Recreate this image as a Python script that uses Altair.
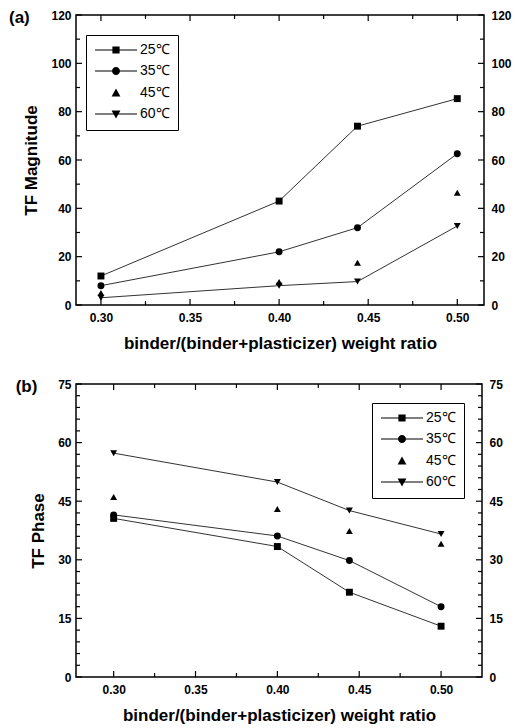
import altair as alt
import pandas as pd

# ---------------- data ----------------
ratio = [0.30, 0.40, 0.444, 0.50]
series = ["25℃", "35℃", "45℃", "60℃"]
line_series = ["25℃", "35℃", "60℃"]

mag_25 = [12.0, 43.0, 74.0, 85.4]
mag_35 = [8.0, 22.0, 32.0, 62.6]
mag_45 = [5.0, 9.5, 17.5, 46.5]
mag_60 = [3.0, 8.0, 9.7, 32.7]

ph_25 = [40.6, 33.4, 21.7, 13.0]
ph_35 = [41.5, 36.1, 29.8, 18.0]
ph_45 = [46.1, 43.0, 37.4, 34.1]
ph_60 = [57.3, 49.9, 42.6, 36.6]

x_major = [0.30, 0.35, 0.40, 0.45, 0.50]
x_minor = [0.325, 0.375, 0.425, 0.475]
mag_major = [0, 20, 40, 60, 80, 100, 120]
mag_minor = [10, 30, 50, 70, 90, 110]
ph_major = [0, 15, 30, 45, 60, 75]
ph_minor = [3, 6, 9, 12, 18, 21, 24, 27, 33, 36, 39, 42, 48, 51, 54, 57, 63, 66, 69, 72]

x_title = "binder/(binder+plasticizer) weight ratio"

FONT = "Liberation Sans"
MAJOR_LEN = 6
MINOR_LEN = 4

# legend symbols: short line with a marker in the middle (normalised units, 1 unit = 4 px)
LINE = "M-5.25,-0.125H5.25V0.125H-5.25Z "
legend_shapes = [
    LINE + "M-0.9,-0.9H0.9V0.9H-0.9Z",
    LINE + "M1,0A1,1 0 1,1 -1,0A1,1 0 1,1 1,0Z",
    "M0,-1.1L1.1,0.9H-1.1Z",
    LINE + "M0,1.1L-1.1,-0.9H1.1Z",
]
point_shapes = ["square", "circle", "triangle-up", "triangle-down"]


def to_frame(values):
    rows = []
    for s, ys in zip(series, values):
        for xv, yv in zip(ratio, ys):
            rows.append({"series": s, "x": xv, "y": yv})
    return pd.DataFrame(rows)


common_axis = dict(
    domain=False, grid=False, ticks=False,
    labelFont=FONT, labelFontWeight="bold", labelFontSize=12, labelColor="black",
    titleFont=FONT, titleFontWeight="bold", titleFontSize=17, titleColor="black",
    labelFlush=False, labelOverlap=False,
)


def panel(df, xdom, ydom, ymaj, ymin, ytitle, label, lx, ly, w, h):
    xs = alt.Scale(domain=xdom, nice=False, zero=False)
    ys = alt.Scale(domain=ydom, nice=False, zero=False)
    base = alt.Chart(df)

    def enc(xaxis, yaxis):
        return dict(
            x=alt.X("x:Q", scale=xs, axis=xaxis),
            y=alt.Y("y:Q", scale=ys, axis=yaxis),
        )

    ax_main = base.mark_point(opacity=0).encode(**enc(
        alt.Axis(orient="bottom", values=x_major, format=".2f",
                 labelPadding=7, title=x_title, titlePadding=12, **common_axis),
        alt.Axis(orient="left", values=ymaj, format="d",
                 labelPadding=5, title=ytitle, titlePadding=10, **common_axis),
    ))
    ax_opp = base.mark_point(opacity=0).encode(**enc(
        alt.Axis(orient="top", values=x_major, labels=False, title=None, **common_axis),
        alt.Axis(orient="right", values=ymaj, format="d",
                 labelPadding=7, title=None, **common_axis),
    ))

    # inward tick marks, positioned through the same scales
    def yticks(vals, length):
        d = alt.Chart(pd.DataFrame({"v": vals})).mark_rule(color="black", strokeWidth=1.2)
        yy = alt.Y("v:Q", scale=ys, axis=None)
        return [
            d.encode(y=yy, x=alt.value(0), x2=alt.value(length)),
            d.encode(y=yy, x=alt.value(w - length), x2=alt.value(w)),
        ]

    def xticks(vals, length):
        d = alt.Chart(pd.DataFrame({"v": vals})).mark_rule(color="black", strokeWidth=1.2)
        xx = alt.X("v:Q", scale=xs, axis=None)
        return [
            d.encode(x=xx, y=alt.value(h - length), y2=alt.value(h)),
            d.encode(x=xx, y=alt.value(0), y2=alt.value(length)),
        ]

    ticks = (yticks(ymaj, MAJOR_LEN) + yticks(ymin, MINOR_LEN)
             + xticks(x_major, MAJOR_LEN) + xticks(x_minor, MINOR_LEN))

    lines = base.transform_filter(
        alt.FieldOneOfPredicate(field="series", oneOf=line_series)
    ).mark_line(color="#333333", strokeWidth=1).encode(
        detail="series:N", **enc(None, None)
    )
    pts = base.mark_point(filled=True, color="black", size=48, opacity=1).encode(
        shape=alt.Shape("series:N", scale=alt.Scale(domain=series, range=point_shapes), legend=None),
        **enc(None, None),
    )
    leg = base.transform_filter("false").mark_point(
        filled=True, color="black", opacity=1
    ).encode(
        shape=alt.Shape(
            "series:N",
            scale=alt.Scale(domain=series, range=legend_shapes),
            legend=alt.Legend(
                title=None, orient="none", legendX=lx, legendY=ly,
                strokeColor="black", fillColor="white", padding=8, rowPadding=7,
                symbolSize=64, symbolFillColor="black", symbolOpacity=1, symbolOffset=15,
                labelOffset=17, labelFont=FONT, labelFontSize=14, labelColor="black",
            ),
        ),
        **enc(None, None),
    )

    return alt.layer(ax_main, ax_opp, *ticks, lines, pts, leg).resolve_scale(
        x="independent", y="independent", shape="independent"
    ).properties(
        width=w, height=h,
        title=alt.TitleParams(label, anchor="start", frame="bounds", orient="top",
                              offset=-18, dx=-14, font=FONT, fontSize=17,
                              fontWeight="bold", color="black"),
    )


pa = panel(to_frame([mag_25, mag_35, mag_45, mag_60]), [0.286, 0.515], [0, 120],
           mag_major, mag_minor, "TF Magnitude", "(a)", 10, 20, 408, 290)
pb = panel(to_frame([ph_25, ph_35, ph_45, ph_60]), [0.277, 0.525], [0, 75],
           ph_major, ph_minor, "TF Phase", "(b)", 296, 19, 406, 293)

chart = alt.vconcat(pa, pb, spacing=25).properties(
    padding={"left": 0, "top": 0, "right": 5, "bottom": 0}
).configure_view(stroke="black", strokeWidth=1.5)

chart.save("out.html", embed_options={"renderer": "svg", "actions": False})
